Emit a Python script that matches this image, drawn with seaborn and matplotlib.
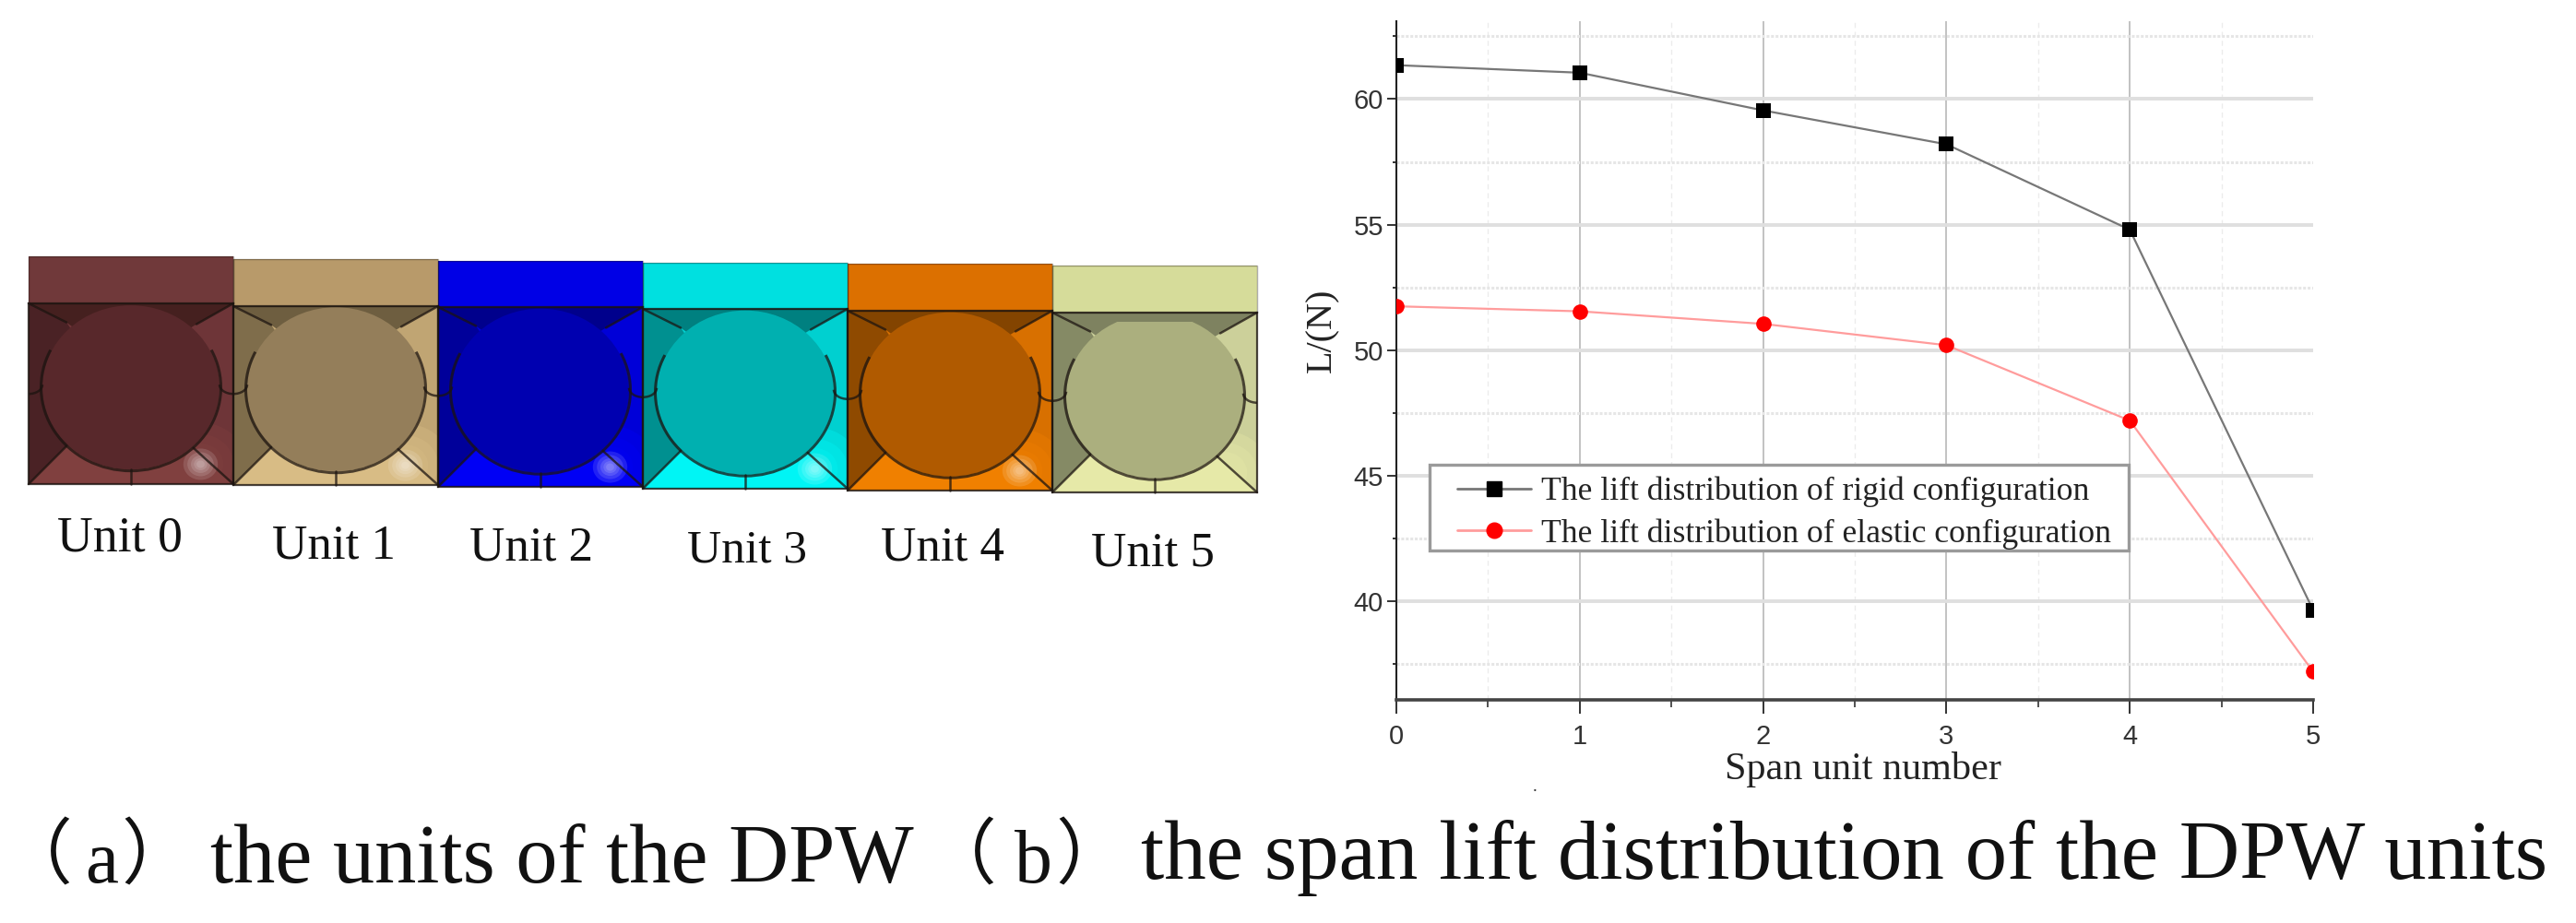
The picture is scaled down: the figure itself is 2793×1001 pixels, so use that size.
import numpy as np
import pandas as pd
import matplotlib
matplotlib.use("Agg")
import matplotlib.pyplot as plt
from matplotlib.patches import Ellipse, Arc, Polygon, Rectangle
from matplotlib.ticker import MultipleLocator
from matplotlib.lines import Line2D
from matplotlib.transforms import IdentityTransform
import seaborn as sns

# ---- data -----
span_units = [0, 1, 2, 3, 4, 5]
lift_rigid = [61.35, 61.05, 59.55, 58.2, 54.8, 39.65]
lift_elastic = [51.75, 51.55, 51.05, 50.2, 47.2, 37.2]
series_rigid = "The lift distribution of rigid configuration"
series_elastic = "The lift distribution of elastic configuration"
unit_labels = ["Unit 0", "Unit 1", "Unit 2", "Unit 3", "Unit 4", "Unit 5"]
caption_a = "the units of the DPW"
caption_b = "the span lift distribution of the DPW units"
x_label = "Span unit number"
y_label = "L/(N)"

# ---- illustration colours per unit ----
col_top = ["#70393A", "#B89A6A", "#0000E6", "#00E0E0", "#DC7000", "#D6DC9A"]
col_disc = ["#58282B", "#947E5A", "#0000B0", "#00B0B0", "#B05A00", "#ABAF7E"]
col_left = ["#4A2225", "#7F6D4B", "#00009A", "#009090", "#8F4A00", "#858A65"]
col_right = ["#6E3538", "#C0A573", "#0000D8", "#00D0D0", "#D87000", "#CCD09A"]
col_bottom = ["#80403F", "#D8BC85", "#0000F5", "#00F5F5", "#F08000", "#E6E9A8"]
col_corner = ["#45201F", "#6E5E40", "#00008C", "#008080", "#834400", "#7E8260"]
has_glint = [True, True, True, True, True, False]

# ---- illustration layout (pixels) ----
edges_x = [31, 253, 475, 697, 919, 1141, 1363]
edge_top = [278, 281, 283, 285, 286, 288]
edge_mid = [329, 332, 333, 335, 337, 339]
edge_bot = [525, 526, 528, 530, 532, 534]
disc_flat = [0, 0, 0, 0, 0, 10]
label_left = [62, 295, 509, 745, 955, 1183]
label_right = [198, 429, 643, 875, 1089, 1317]
label_base = [598, 605, 608, 610, 608, 613]

W, H = 2793, 1001
sns.set_theme(style="ticks")
SERIF = ["Liberation Serif", "Noto Sans CJK SC"]
fig = plt.figure(figsize=(W / 100, H / 100), dpi=100, facecolor="white")

ov = fig.add_axes([0, 0, 1, 1], zorder=0)
ov.set_xlim(0, W)
ov.set_ylim(H, 0)
ov.axis("off")

LINE = "#1c1410"
for i in range(6):
    x0, x1 = edges_x[i], edges_x[i + 1]
    yt, ym, yb = edge_top[i], edge_mid[i], edge_bot[i]
    w, h = x1 - x0, yb - ym
    cx, cy = x0 + 0.5 * w, ym + 0.465 * h
    rx, ry = 96, 89
    box = Rectangle((x0, ym), w, h, transform=ov.transData)
    ov.add_patch(Rectangle((x0, yt), w, ym - yt, fc=col_top[i], ec="none", zorder=1))
    ov.add_patch(Rectangle((x0, ym), w, h, fc=col_right[i], ec="none", zorder=1))
    pl = (x0 + 0.185 * w, ym + 0.105 * h)
    pr = (x0 + 0.82 * w, ym + 0.115 * h)
    ql = (x0 + 0.185 * w, ym + 0.79 * h)
    qr = (x0 + 0.805 * w, ym + 0.80 * h)
    ov.add_patch(Polygon([(x0, ym), pl, (x0 + 0.3 * w, ym + 0.3 * h), (x0 + 0.3 * w, ym + 0.7 * h),
                          ql, (x0, yb)], fc=col_left[i], ec="none", zorder=2))
    ov.add_patch(Polygon([(x0, yb), ql, qr, (x1, yb)], fc=col_bottom[i], ec="none", zorder=2))
    ov.add_patch(Polygon([(x0, ym), pl, (x0 + 0.3 * w, ym + 0.2 * h), (x0 + 0.7 * w, ym + 0.2 * h),
                          pr, (x1, ym)], fc=col_corner[i], ec="none", zorder=3))
    # soft glow and glint, lower right
    for r in [90, 65, 45]:
        g = Ellipse((x0 + 0.84 * w, ym + 0.89 * h), r * 1.1, r, fc=col_bottom[i], ec="none",
                    alpha=0.35, zorder=3)
        ov.add_patch(g)
        g.set_clip_path(box)
    if has_glint[i]:
        for r in [34, 26, 19, 13, 8]:
            ov.add_patch(Ellipse((x0 + 0.84 * w, ym + 0.89 * h), r * 1.1, r, fc="white",
                                 ec="none", alpha=0.13, zorder=3))
    disc = Ellipse((cx, cy), 2 * rx, 2 * ry, fc=col_disc[i], ec="none", zorder=4)
    ov.add_patch(disc)
    if disc_flat[i]:
        disc.set_clip_path(Rectangle((x0, ym + disc_flat[i]), w, h, transform=ov.transData))
    ov.add_patch(Arc((cx, cy), 2 * rx + 3, 2 * ry + 3, theta1=-25, theta2=205, ec=LINE,
                     lw=2.2, alpha=0.75, zorder=5))
    seg_kw = dict(color=LINE, lw=1.8, alpha=0.75, zorder=5, solid_capstyle="round")
    ov.plot([x0, pl[0]], [yb, ql[1]], **seg_kw)
    ov.plot([x1, qr[0]], [yb, qr[1]], **seg_kw)
    ov.plot([x0, pl[0]], [ym, pl[1]], **seg_kw)
    ov.plot([x1, pr[0]], [ym, pr[1]], **seg_kw)
    ov.plot([cx, cx], [cy + ry, yb], **seg_kw)
    ov.add_patch(Rectangle((x0, ym), w, h, fc="none", ec=LINE, lw=1.6, alpha=0.8, zorder=6))
    ov.add_patch(Rectangle((x0, yt), w, ym - yt, fc="none", ec=LINE, lw=1.0, alpha=0.35, zorder=6))
    # small arcs joining neighbouring discs across the unit borders
    arc_kw = dict(ec=LINE, lw=1.8, alpha=0.75, zorder=5)
    if i == 0:
        ov.add_patch(Arc((x0, ym + 0.45 * h), 30, 20, theta1=0, theta2=90, **arc_kw))
    if i < 5:
        ov.add_patch(Arc((x1, ym + 0.45 * h), 30, 20, theta1=0, theta2=180, **arc_kw))
    else:
        ov.add_patch(Arc((x1, ym + 0.45 * h), 30, 20, theta1=90, theta2=180, **arc_kw))

fig.canvas.draw()
rend = fig.canvas.get_renderer()

def fit_text(string, left, right, base, size, family=SERIF, color="#111111"):
    t = ov.text(left, base, string, ha="left", va="baseline", fontsize=size, family=family,
                color=color, zorder=8)
    ext = t.get_window_extent(rend)
    t.set_fontsize(size * (right - left) / ext.width)
    return t

for lab, l, r, b in zip(unit_labels, label_left, label_right, label_base):
    fit_text(lab, l, r, b, 38)

fit_text(caption_a, 228, 991, 957, 60)
fit_text(caption_b, 1237, 2763, 953, 60)
paren_kw = dict(ha="left", va="baseline", fontsize=56, family=SERIF, color="#111111", zorder=8)
ov.text(1, 953, "（", **paren_kw)
ov.text(131, 953, "）", **paren_kw)
ov.text(1003, 953, "（", **paren_kw)
ov.text(1144, 953, "）", **paren_kw)
fit_text("a", 92, 128, 957, 60)
fit_text("b", 1100, 1141, 957, 60)
ov.text(1664, 858, ".", ha="center", va="baseline", fontsize=14, family=SERIF, color="#333333", zorder=8)

# ---- lift chart ----
left, right, top, bottom = 1514, 2508, 23, 759
ax = fig.add_axes([left / W, 1 - bottom / H, (right - left) / W, (bottom - top) / H], zorder=2)
ax.patch.set_alpha(0)

df = pd.DataFrame({
    "unit": span_units * 2,
    "lift": lift_rigid + lift_elastic,
    "series": [series_rigid] * 6 + [series_elastic] * 6,
})
sns.lineplot(data=df, x="unit", y="lift", hue="series", style="series",
             hue_order=[series_rigid, series_elastic],
             style_order=[series_rigid, series_elastic],
             palette=["#777777", "#FF9C9C"], markers=["s", "o"], dashes=False,
             errorbar=None, linewidth=1.6, markersize=12, markeredgewidth=0,
             legend=False, ax=ax, zorder=3)
marker_cols = ["#000000", "#FF0000"]
for ln, mc in zip(ax.lines, marker_cols):
    ln.set_markerfacecolor(mc)
    ln.set_markeredgecolor(mc)

ax.set_xlim(0, 5)
ax.set_ylim(36.08, 63.1)
ax.xaxis.set_major_locator(MultipleLocator(1))
ax.xaxis.set_minor_locator(MultipleLocator(0.5))
ax.yaxis.set_major_locator(MultipleLocator(5))
ax.yaxis.set_minor_locator(MultipleLocator(2.5))
ax.set_axisbelow(True)
ax.grid(which="major", axis="y", color="#dfdfdf", lw=2.8)
ax.grid(which="minor", axis="y", color="#e6e6e6", lw=2.2, ls=(0, (1, 0.6)))
ax.grid(which="major", axis="x", color="#b8b8b8", lw=1.2)
ax.grid(which="minor", axis="x", color="#ececec", lw=1.0, ls=(0, (4, 3)))
sns.despine(ax=ax)
ax.spines["left"].set_linewidth(1.5)
ax.spines["left"].set_color("#222222")
ax.spines["bottom"].set_linewidth(2.6)
ax.spines["bottom"].set_color("#444444")
ax.tick_params(axis="x", which="major", length=11, width=1.4, color="#333333", pad=8,
               labelsize=21, labelcolor="#333333")
ax.tick_params(axis="x", which="minor", length=6, width=1.2, color="#333333")
ax.tick_params(axis="y", which="major", length=7, width=1.4, color="#333333", pad=3,
               labelsize=21, labelcolor="#333333")
ax.tick_params(axis="y", which="minor", length=3, width=1.4, color="#333333")
for tl in ax.get_xticklabels() + ax.get_yticklabels():
    tl.set_family("Liberation Sans")
for tick in ax.xaxis.get_major_ticks():
    if tick.get_loc() >= span_units[-1]:
        tick.gridline.set_visible(False)
ax.set_xlabel("")
ax.set_ylabel("")

fit_text(x_label, 1870, 2170, 845, 30, color="#222222")
ov.text(1434, 358, y_label, rotation=90, ha="center", va="center", fontsize=29, family=SERIF,
        color="#222222", zorder=8)

# legend box
ax.add_patch(Rectangle((1550, H - 597), 758, 93, transform=IdentityTransform(), fc="white",
                       ec="#9a9a9a", lw=2.4, zorder=4, clip_on=False))
handles = [Line2D([], [], color=ln.get_color(), lw=2, marker=m, ms=12, mfc=c, mec=c)
           for ln, m, c in zip(ax.lines, ["s", "o"], marker_cols)]
leg = ax.legend(handles, [series_rigid, series_elastic], loc="upper left",
                bbox_to_anchor=(1580, H - 517), bbox_transform=IdentityTransform(),
                frameon=False, borderpad=0, borderaxespad=0, handlelength=2.25,
                handletextpad=0.3, labelspacing=0.33,
                prop={"family": "Liberation Serif", "size": 25.7})
leg.set_zorder(5)
for t in leg.get_texts():
    t.set_color("#222222")

fig.savefig("out.png", dpi=100, facecolor="white")
